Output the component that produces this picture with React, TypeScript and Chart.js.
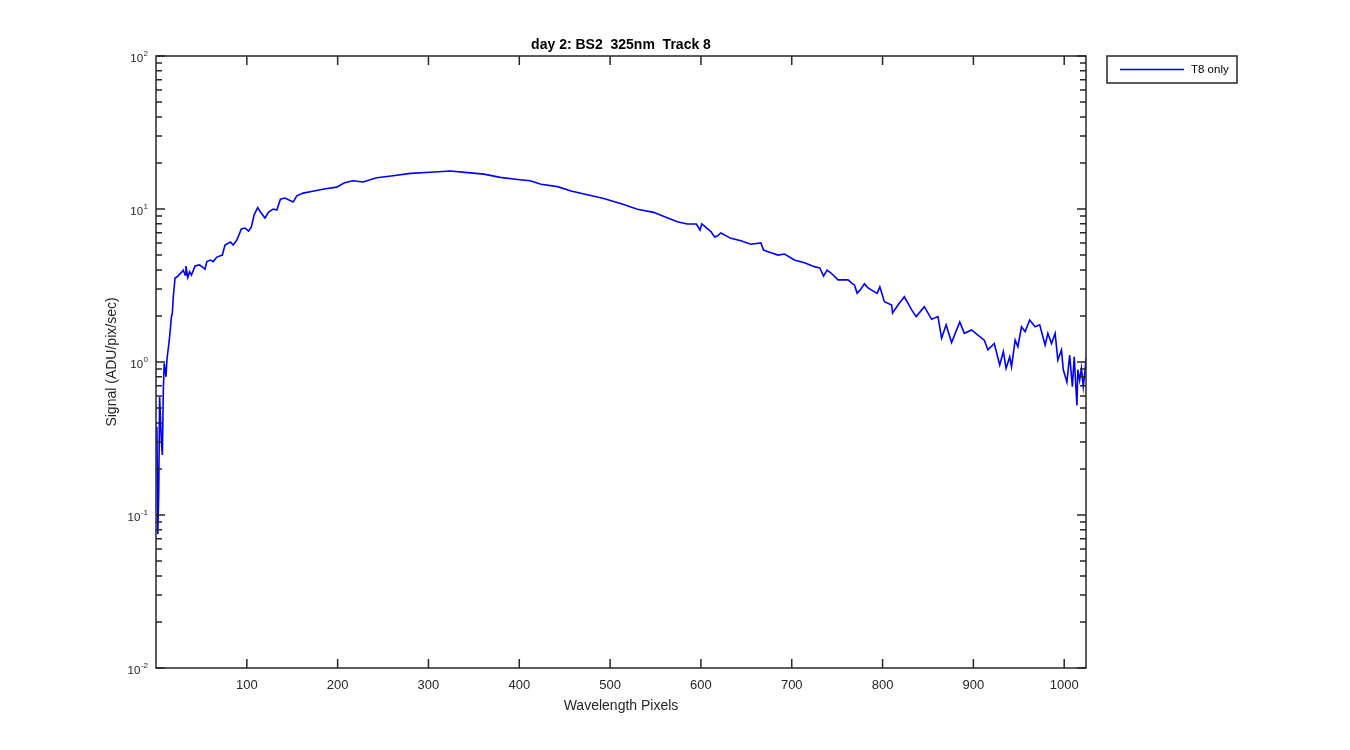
import { useEffect, useRef } from "react";
import { Chart, registerables } from "chart.js";

Chart.register(...registerables);

// ---- data ----
const pixelIdx = [
  1, 2, 3, 4, 6, 7, 8, 9, 11, 12,
  15, 17, 18, 19, 21, 23, 28, 30, 32, 33,
  35, 37, 39, 43, 48, 54, 56, 60, 63, 67,
  73, 76, 82, 85, 89, 94, 98, 102, 105, 108,
  112, 115, 120, 124, 129, 133, 137, 142, 151, 155,
  162, 174, 185, 199, 207, 214, 217, 228, 243, 261,
  280, 302, 324, 343, 361, 379, 398, 412, 424, 442,
  457, 475, 493, 515, 530, 548, 560, 574, 585, 595,
  599, 601, 611, 615, 618, 622, 633, 644, 655, 666,
  669, 674, 685, 692, 703, 714, 725, 731, 735, 739,
  743, 751, 762, 766, 769, 772, 776, 780, 784, 794,
  797, 802, 810, 811, 817, 824, 832, 837, 846, 854,
  861, 865, 870, 876, 885, 890, 898, 905, 912, 916,
  923, 929, 933, 936, 940, 942, 946, 949, 953, 957,
  962, 968, 973, 979, 982, 986, 990, 993, 997, 999,
  1003, 1006, 1009, 1011, 1014, 1015, 1017, 1019, 1021, 1023,
  1024,
];

const signal = [
  0.378, 0.075, 0.139, 0.59, 0.296, 0.247, 0.627, 0.98, 0.8, 1.03,
  1.46, 1.97, 2.09, 2.66, 3.54, 3.59, 3.85, 3.99, 3.7, 4.24,
  3.57, 3.89, 3.7, 4.24, 4.31, 4.05, 4.53, 4.64, 4.53, 4.85,
  5.0, 5.82, 6.09, 5.82, 6.27, 7.4, 7.51, 7.18, 7.63, 9.14,
  10.2, 9.56, 8.73, 9.56, 10.0, 9.85, 11.6, 11.8, 11.1, 12.2,
  12.7, 13.1, 13.5, 13.9, 14.8, 15.2, 15.3, 15.0, 16.0, 16.5,
  17.1, 17.4, 17.7, 17.3, 16.9, 16.1, 15.6, 15.3, 14.5, 14.0,
  13.1, 12.4, 11.7, 10.7, 9.95, 9.51, 8.91, 8.26, 7.98, 7.98,
  7.29, 7.98, 7.11, 6.56, 6.66, 6.97, 6.43, 6.21, 5.88, 6.0,
  5.39, 5.26, 5.0, 5.08, 4.64, 4.46, 4.2, 4.11, 3.65, 3.99,
  3.83, 3.44, 3.44, 3.28, 3.19, 2.82, 2.99, 3.24, 3.05, 2.81,
  3.1, 2.48, 2.36, 2.09, 2.36, 2.67, 2.19, 1.98, 2.3, 1.9,
  1.98, 1.43, 1.75, 1.34, 1.83, 1.54, 1.62, 1.5, 1.39, 1.2,
  1.32, 0.955, 1.17, 0.91, 1.08, 0.93, 1.39, 1.26, 1.7, 1.58,
  1.88, 1.7, 1.75, 1.29, 1.54, 1.32, 1.54, 1.03, 1.2, 0.89,
  0.74, 1.11, 0.69, 1.08, 0.52, 0.89, 0.76, 0.91, 0.69, 0.89,
  1.06,
];

const xTickValues = [100, 200, 300, 400, 500, 600, 700, 800, 900, 1000];
const yDecades = [0.01, 0.1, 1, 10, 100];
const yExponents = ["-2", "-1", "0", "1", "2"];
const minorMultipliers = [2, 3, 4, 5, 6, 7, 8, 9];

const titleText = "day 2: BS2  325nm  Track 8";
const xLabel = "Wavelength Pixels";
const yLabel = "Signal (ADU/pix/sec)";
const legendLabel = "T8 only";

const AXIS = "#262626";
const LINE = "#0000ff";
const FONT = "'Liberation Sans', Arial, Helvetica, sans-serif";

const matlabAxes = {
  id: "matlabAxes",
  afterDraw(chart: any) {
    const { ctx, chartArea: a, scales } = chart;
    const xs = scales.x;
    const ys = scales.y;
    ctx.save();

    // box
    ctx.strokeStyle = AXIS;
    ctx.lineWidth = 1.5;
    ctx.strokeRect(a.left, a.top, a.right - a.left, a.bottom - a.top);

    // ticks (inward)
    const major = 9;
    const minor = 6;
    ctx.beginPath();
    for (const v of xTickValues) {
      const px = xs.getPixelForValue(v);
      ctx.moveTo(px, a.bottom);
      ctx.lineTo(px, a.bottom - major);
      ctx.moveTo(px, a.top);
      ctx.lineTo(px, a.top + major);
    }
    for (let i = 0; i < yDecades.length; i++) {
      const py = ys.getPixelForValue(yDecades[i]);
      ctx.moveTo(a.left, py);
      ctx.lineTo(a.left + major, py);
      ctx.moveTo(a.right, py);
      ctx.lineTo(a.right - major, py);
      if (i < yDecades.length - 1) {
        for (const m of minorMultipliers) {
          const pm = ys.getPixelForValue(yDecades[i] * m);
          ctx.moveTo(a.left, pm);
          ctx.lineTo(a.left + minor, pm);
          ctx.moveTo(a.right, pm);
          ctx.lineTo(a.right - minor, pm);
        }
      }
    }
    ctx.stroke();

    ctx.fillStyle = AXIS;
    // x tick labels
    ctx.font = `13px ${FONT}`;
    ctx.textAlign = "center";
    ctx.textBaseline = "middle";
    for (const v of xTickValues) {
      ctx.fillText(String(v), xs.getPixelForValue(v), a.bottom + 17);
    }

    // y tick labels 10^n
    for (let i = 0; i < yDecades.length; i++) {
      const py = ys.getPixelForValue(yDecades[i]);
      const right = a.left - 8;
      ctx.font = `8px ${FONT}`;
      const ew = ctx.measureText(yExponents[i]).width;
      ctx.textAlign = "left";
      ctx.textBaseline = "middle";
      ctx.fillText(yExponents[i], right - ew, py - 2);
      ctx.font = `11.5px ${FONT}`;
      ctx.textAlign = "right";
      ctx.fillText("10", right - ew - 0.5, py + 3);
    }

    // axis labels
    ctx.font = `14px ${FONT}`;
    ctx.textAlign = "center";
    ctx.textBaseline = "middle";
    ctx.fillText(xLabel, (a.left + a.right) / 2, a.bottom + 38);
    ctx.save();
    ctx.translate(a.left - 44, (a.top + a.bottom) / 2);
    ctx.rotate(-Math.PI / 2);
    ctx.fillText(yLabel, 0, 0);
    ctx.restore();

    // title
    ctx.font = `bold 14px ${FONT}`;
    ctx.fillStyle = "#000000";
    ctx.textAlign = "center";
    ctx.textBaseline = "alphabetic";
    ctx.fillText(titleText, (a.left + a.right) / 2, a.top - 7);

    // legend
    const lx = a.right + 21;
    const ly = a.top;
    const lw = 130;
    const lh = 27;
    ctx.fillStyle = "#ffffff";
    ctx.fillRect(lx, ly, lw, lh);
    ctx.strokeStyle = AXIS;
    ctx.lineWidth = 1.5;
    ctx.strokeRect(lx, ly, lw, lh);
    ctx.strokeStyle = LINE;
    ctx.lineWidth = 1.6;
    ctx.beginPath();
    ctx.moveTo(lx + 13, ly + lh / 2);
    ctx.lineTo(lx + 77, ly + lh / 2);
    ctx.stroke();
    ctx.fillStyle = "#000000";
    ctx.font = `11.5px ${FONT}`;
    ctx.textAlign = "left";
    ctx.textBaseline = "middle";
    ctx.fillText(legendLabel, lx + 84, ly + lh / 2);

    ctx.restore();
  },
};

export default function App() {
  const canvasRef = useRef<HTMLCanvasElement | null>(null);

  useEffect(() => {
    const canvas = canvasRef.current;
    if (!canvas) return;
    const points = pixelIdx.map((x, i) => ({ x, y: signal[i] }));
    const chart = new Chart(canvas, {
      type: "line",
      data: {
        datasets: [
          {
            label: legendLabel,
            data: points,
            borderColor: LINE,
            borderWidth: 1.6,
            pointRadius: 0,
            tension: 0,
            fill: false,
          },
        ],
      },
      options: {
        responsive: false,
        animation: false,
        maintainAspectRatio: false,
        layout: { padding: { left: 156, top: 56, right: 264, bottom: 82 } },
        scales: {
          x: { type: "linear", min: 0, max: 1024, display: false },
          y: { type: "logarithmic", min: 0.01, max: 100, display: false },
        },
        plugins: {
          legend: { display: false },
          title: { display: false },
          tooltip: { enabled: false },
        },
      },
      plugins: [matlabAxes],
    });
    return () => chart.destroy();
  }, []);

  return (
    <div style={{ position: "absolute", left: 0, top: 0, width: 1350, height: 750, background: "#ffffff" }}>
      <canvas ref={canvasRef} width={1350} height={750} style={{ width: 1350, height: 750 }} />
    </div>
  );
}
